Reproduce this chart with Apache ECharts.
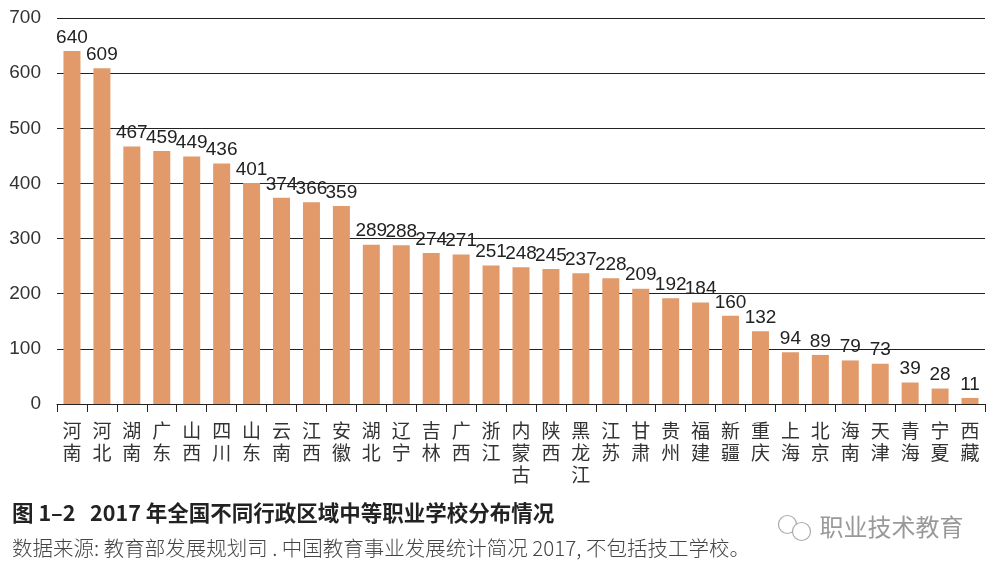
<!DOCTYPE html>
<html>
  <head>
    <meta charset="utf-8" />
    <title>2017 年全国不同行政区域中等职业学校分布情况</title>
    <script src="https://cdn.jsdelivr.net/npm/echarts@6/dist/echarts.min.js"></script>
    <style>
      html, body { margin: 0; padding: 0; background: #fff; }
    </style>
  </head>
  <body>
    <div id="chart" style="width: 995px; height: 573px"></div>
    <script>
      /* ======= data ======= */
      var provinces = [
        "河南", "河北", "湖南", "广东", "山西", "四川", "山东", "云南", "江西", "安徽",
        "湖北", "辽宁", "吉林", "广西", "浙江", "内蒙古", "陕西", "黑龙江", "江苏", "甘肃",
        "贵州", "福建", "新疆", "重庆", "上海", "北京", "海南", "天津", "青海", "宁夏", "西藏"
      ];
      var schoolCounts = [
        640, 609, 467, 459, 449, 436, 401, 374, 366, 359,
        289, 288, 274, 271, 251, 248, 245, 237, 228, 209,
        192, 184, 160, 132, 94, 89, 79, 73, 39, 28, 11
      ];
      var yTicks = [0, 100, 200, 300, 400, 500, 600, 700];
      var captionText = "图 1–2   2017 年全国不同行政区域中等职业学校分布情况";
      var sourceText = "数据来源: 教育部发展规划司 . 中国教育事业发展统计简况 2017, 不包括技工学校。";
      var markText = "职业技术教育";

      var numFont = "'Liberation Sans', Arial, sans-serif";
      var cjkFont = "'Noto Sans CJK SC', sans-serif";

      var option = {
        animation: false,
        backgroundColor: "#fff",
        grid: { left: 57, right: 10, top: 18, bottom: 169 },
        xAxis: {
          type: "category",
          data: provinces,
          axisLine: { lineStyle: { color: "#222", width: 1 } },
          axisTick: { show: true, length: 8, lineStyle: { color: "#222" } },
          axisLabel: {
            interval: 0,
            margin: 16,
            fontSize: 19,
            lineHeight: 22,
            color: "#333",
            fontFamily: cjkFont,
            formatter: function (v) {
              return v.split("").join("\n");
            }
          }
        },
        yAxis: {
          type: "value",
          min: yTicks[0],
          max: yTicks[yTicks.length - 1],
          interval: 100,
          axisLine: { show: false },
          axisTick: { show: false },
          axisLabel: { fontSize: 19, color: "#333", margin: 16, fontFamily: numFont },
          splitLine: { lineStyle: { color: "#222", width: 1 } }
        },
        series: [
          {
            type: "bar",
            data: schoolCounts,
            barWidth: 17,
            itemStyle: { color: "#e29a6b" },
            label: {
              show: true,
              position: "top",
              distance: 4,
              fontSize: 19,
              color: "#222",
              fontFamily: numFont
            },
            z: 3
          }
        ],
        graphic: [
          {
            type: "text",
            left: 12,
            top: 502,
            style: { text: captionText, fill: "#222", font: "bold 21.5px " + cjkFont }
          },
          {
            type: "text",
            left: 12,
            top: 538,
            style: { text: sourceText, fill: "#444", font: "300 20.5px " + cjkFont }
          },
          {
            type: "group",
            left: 776,
            top: 513,
            children: [
              { type: "circle", shape: { cx: 12, cy: 10, r: 9 }, style: { fill: "none", stroke: "#aaa", lineWidth: 1.2 } },
              { type: "circle", shape: { cx: 26, cy: 17, r: 9 }, style: { fill: "#fff", stroke: "#aaa", lineWidth: 1.2 } },
              { type: "text", x: 44, y: 0, style: { text: markText, fill: "#999", font: "24px " + cjkFont } }
            ]
          }
        ]
      };

      var chart = echarts.init(document.getElementById("chart"));
      chart.setOption(option);
    </script>
  </body>
</html>
